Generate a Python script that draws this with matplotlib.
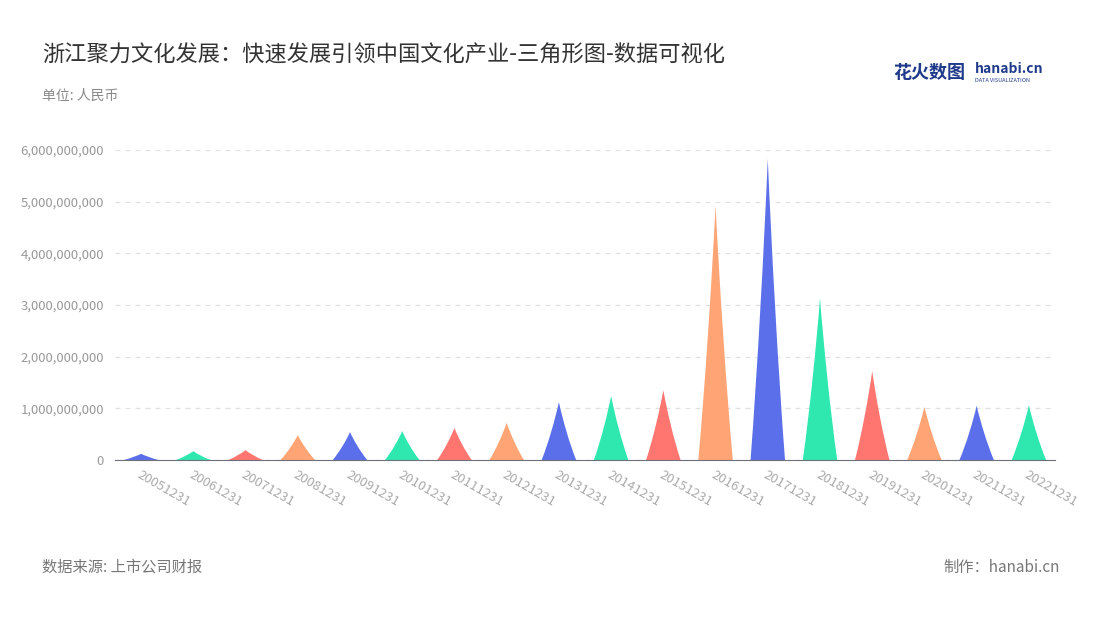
import matplotlib
matplotlib.use("Agg")
import matplotlib.pyplot as plt
from matplotlib.path import Path
from matplotlib.patches import PathPatch
from matplotlib.ticker import FuncFormatter

plt.rcParams["font.family"] = ["Noto Sans CJK SC"]

categories = ["20051231","20061231","20071231","20081231","20091231","20101231",
              "20111231","20121231","20131231","20141231","20151231","20161231",
              "20171231","20181231","20191231","20201231","20211231","20221231"]
values = [0.12e9,0.17e9,0.19e9,0.48e9,0.54e9,0.56e9,0.62e9,0.72e9,1.12e9,
          1.24e9,1.35e9,4.93e9,5.83e9,3.13e9,1.72e9,1.03e9,1.05e9,1.06e9]
palette = ["#5B6FEA", "#2EE8B0", "#FF7670", "#FFA474"]

fig = plt.figure(figsize=(11, 6.2), dpi=100)
ax = fig.add_axes([115/1100, 1-460/620, 940/1100, 310/620])
ax.set_xlim(-0.5, len(categories) - 0.5)
ax.set_ylim(0, 6e9)

hw = 0.33
for i, v in enumerate(values):
    verts = [(i - hw, 0), (i - hw*0.6, v*0.3), (i - hw*0.22, v*0.7), (i, v),
             (i + hw*0.22, v*0.7), (i + hw*0.6, v*0.3), (i + hw, 0), (i - hw, 0)]
    codes = [Path.MOVETO, Path.CURVE4, Path.CURVE4, Path.CURVE4,
             Path.CURVE4, Path.CURVE4, Path.CURVE4, Path.CLOSEPOLY]
    ax.add_patch(PathPatch(Path(verts, codes), facecolor=palette[i % 4], edgecolor="none"))

ax.set_yticks([i * 1e9 for i in range(7)])
ax.yaxis.set_major_formatter(FuncFormatter(lambda v, p: f"{int(v):,}"))
ax.grid(axis="y", color="#E0E0E0", linestyle=(0, (4, 4)), linewidth=0.9)
ax.set_axisbelow(True)
for s in ["top", "right", "left"]:
    ax.spines[s].set_visible(False)
ax.spines["bottom"].set_color("#6E7079")
ax.tick_params(axis="y", length=0, labelsize=9.5, labelcolor="#999999", pad=8)
ax.set_xticks(range(len(categories)))
ax.set_xticklabels(categories, rotation=-30, ha="left", rotation_mode="anchor",
                   fontsize=9.5, color="#AAAAAA")
ax.tick_params(axis="x", length=0, pad=6)

fig.text(42/1100, 1-55/620, "浙江聚力文化发展：快速发展引领中国文化产业-三角形图-数据可视化",
         fontsize=16, color="#333333", va="center")
fig.text(42/1100, 1-96/620, "单位: 人民币", fontsize=10, color="#888888", va="center")
fig.text(42/1100, 1-567/620, "数据来源: 上市公司财报", fontsize=11, color="#777777", va="center")
fig.text(1060/1100, 1-567/620, "制作：hanabi.cn", fontsize=11, color="#777777", va="center", ha="right")
fig.text(893/1100, 1-72/620, "花火数图", fontsize=13, color="#1F3A8A", va="center", weight="bold")
fig.text(975/1100, 1-69/620, "hanabi.cn", fontsize=10, color="#1F3A8A", va="center", weight="bold")
fig.text(975/1100, 1-80/620, "DATA VISUALIZATION", fontsize=4, color="#1F3A8A", va="center")

fig.savefig("out.png", dpi=100)
